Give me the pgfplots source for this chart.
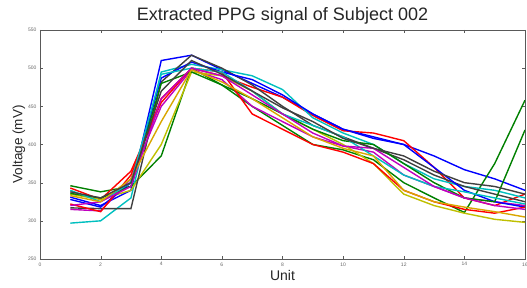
\documentclass[border=0pt]{standalone}
\usepackage{pgfplots}
\pgfplotsset{compat=1.18}
\usepackage{fontspec}
\setmainfont{Liberation Sans}
\definecolor{mb}{rgb}{0,0,1}
\definecolor{mg}{rgb}{0,0.5,0}
\definecolor{mr}{rgb}{1,0,0}
\definecolor{mc}{rgb}{0,0.75,0.75}
\definecolor{mm}{rgb}{0.75,0,0.75}
\definecolor{my}{rgb}{0.75,0.75,0}
\definecolor{mk}{rgb}{0.25,0.25,0.25}
\begin{document}
\begin{tikzpicture}
\begin{axis}[
  scale only axis, width=485pt, height=229pt,
  xmin=0, xmax=16, ymin=250, ymax=550,
  xtick={0,2,...,16}, ytick={250,300,...,550},
  tick align=inside, major tick length=3pt,
  axis line style={gray!70!black, line width=0.6pt},
  tick style={gray!70!black},
  ticklabel style={font=\fontsize{5}{6}\selectfont, text=gray!80!black},
  /pgf/number format/assume math mode=true,
  title={Extracted PPG signal of Subject 002},
  title style={font=\fontsize{18}{20}\selectfont, at={(0.5,1)}, anchor=base, yshift=3.5pt, text=black!85},
  xlabel={Unit}, ylabel={Voltage (mV)},
  xlabel style={font=\fontsize{14}{16}\selectfont, yshift=3pt, text=black!85},
  ylabel style={font=\fontsize{13.5}{15}\selectfont, yshift=-4pt, text=black!85},
  every axis plot/.append style={line width=1.4pt, mark=none},
  clip=true,
]
\addplot[mb] coordinates {(1,331)(2,320)(3,340)(4,510)(5,517)(6,498)(7,480)(8,462)(9,440)(10,420)(11,408)(12,400)(13,385)(14,367)(15,355)(16,340)};
\addplot[mg] coordinates {(1,346)(2,338)(3,345)(4,385)(5,500)(6,478)(7,450)(8,425)(9,400)(10,393)(11,380)(12,350)(13,330)(14,311)(15,375)(16,458)};
\addplot[mr] coordinates {(1,343)(2,328)(3,365)(4,455)(5,500)(6,490)(7,475)(8,462)(9,438)(10,418)(11,415)(12,405)(13,370)(14,330)(15,320)(16,335)};
\addplot[mc] coordinates {(1,297)(2,300)(3,330)(4,495)(5,505)(6,498)(7,490)(8,472)(9,435)(10,415)(11,400)(12,375)(13,355)(14,345)(15,340)(16,330)};
\addplot[mm] coordinates {(1,315)(2,313)(3,355)(4,450)(5,498)(6,485)(7,450)(8,430)(9,410)(10,398)(11,390)(12,360)(13,345)(14,330)(15,325)(16,320)};
\addplot[my] coordinates {(1,335)(2,328)(3,340)(4,400)(5,495)(6,490)(7,470)(8,440)(9,420)(10,400)(11,375)(12,335)(13,320)(14,310)(15,302)(16,298)};
\addplot[mk] coordinates {(1,317)(2,316)(3,316)(4,482)(5,517)(6,500)(7,478)(8,450)(9,425)(10,410)(11,395)(12,380)(13,360)(14,345)(15,335)(16,325)};
\addplot[mb] coordinates {(1,328)(2,318)(3,350)(4,487)(5,508)(6,495)(7,485)(8,465)(9,440)(10,420)(11,410)(12,400)(13,370)(14,340)(15,325)(16,318)};
\addplot[mg] coordinates {(1,336)(2,330)(3,345)(4,480)(5,495)(6,478)(7,460)(8,440)(9,420)(10,405)(11,400)(12,375)(13,350)(14,330)(15,325)(16,419)};
\addplot[mr] coordinates {(1,322)(2,312)(3,360)(4,460)(5,500)(6,495)(7,440)(8,420)(9,400)(10,390)(11,375)(12,340)(13,325)(14,315)(15,310)(16,318)};
\addplot[mc] coordinates {(1,340)(2,325)(3,350)(4,492)(5,500)(6,495)(7,470)(8,440)(9,425)(10,410)(11,385)(12,360)(13,345)(14,338)(15,330)(16,322)};
\addplot[mm] coordinates {(1,320)(2,325)(3,345)(4,460)(5,500)(6,490)(7,465)(8,440)(9,415)(10,398)(11,395)(12,370)(13,345)(14,330)(15,320)(16,315)};
\addplot[my!60!orange] coordinates {(1,333)(2,325)(3,355)(4,430)(5,498)(6,482)(7,460)(8,435)(9,410)(10,395)(11,385)(12,340)(13,325)(14,318)(15,312)(16,305)};
\addplot[mk] coordinates {(1,338)(2,330)(3,350)(4,470)(5,510)(6,492)(7,470)(8,448)(9,430)(10,408)(11,395)(12,385)(13,365)(14,350)(15,345)(16,335)};
\end{axis}
\pgfresetboundingbox
\useasboundingbox (-40pt,-29pt) rectangle (487pt,259pt);
\end{tikzpicture}
\end{document}
